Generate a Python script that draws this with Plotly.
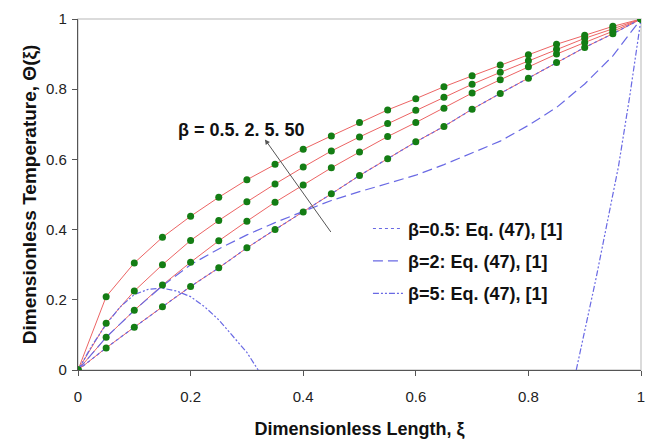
import plotly.graph_objects as go

# ---------------- data ----------------
xi = [0, 0.05, 0.1, 0.15, 0.2, 0.25, 0.3, 0.35, 0.4, 0.45, 0.5,
      0.55, 0.6, 0.65, 0.7, 0.75, 0.8, 0.85, 0.9, 0.95, 1.0]

theta_b50 = [0, 0.209, 0.305, 0.378, 0.438, 0.492, 0.542, 0.586, 0.629, 0.667, 0.705,
             0.741, 0.773, 0.807, 0.838, 0.869, 0.898, 0.928, 0.954, 0.979, 1.0]
theta_b5 = [0, 0.133, 0.225, 0.300, 0.369, 0.426, 0.479, 0.530, 0.578, 0.624, 0.664,
            0.702, 0.740, 0.777, 0.814, 0.848, 0.881, 0.914, 0.945, 0.972, 1.0]
theta_b2 = [0, 0.093, 0.170, 0.242, 0.307, 0.368, 0.424, 0.478, 0.527, 0.576, 0.621,
            0.665, 0.705, 0.746, 0.789, 0.827, 0.864, 0.900, 0.933, 0.965, 1.0]
theta_b05 = [0, 0.063, 0.122, 0.180, 0.238, 0.291, 0.348, 0.400, 0.450, 0.502, 0.554,
             0.602, 0.650, 0.694, 0.743, 0.788, 0.831, 0.876, 0.919, 0.958, 1.0]

# Eq. (47), [1]
eq_b05_x = xi
eq_b05_y = [0, 0.063, 0.122, 0.180, 0.238, 0.291, 0.348, 0.400, 0.450, 0.502, 0.554,
            0.602, 0.650, 0.694, 0.743, 0.788, 0.831, 0.876, 0.919, 0.958, 1.0]

eq_b2_x = xi
eq_b2_y = [0, 0.093, 0.170, 0.240, 0.300, 0.345, 0.385, 0.420, 0.452, 0.483, 0.508,
           0.532, 0.555, 0.585, 0.618, 0.652, 0.697, 0.748, 0.815, 0.895, 1.0]

eq_b5_x = [0, 0.025, 0.05, 0.075, 0.1, 0.125, 0.15, 0.175, 0.2, 0.225, 0.25, 0.275,
           0.3, 0.32, None, 0.885, 0.9, 0.92, 0.94, 0.96, 0.98, 1.0]
eq_b5_y = [0, 0.070, 0.130, 0.180, 0.215, 0.230, 0.233, 0.225, 0.209, 0.180, 0.143,
           0.095, 0.050, 0.0, None, 0.0, 0.11, 0.26, 0.42, 0.58, 0.78, 1.0]

x_ticks = [0, 0.2, 0.4, 0.6, 0.8, 1]
y_ticks = [0, 0.2, 0.4, 0.6, 0.8, 1]

arrow_head = (0.332, 0.657)
arrow_tail = (0.451, 0.389)
label_pos = (0.29, 0.683)

# ---------------- styles ----------------
RED = "rgb(236,100,100)"
BLUE = "rgb(105,105,228)"
GREEN = "rgb(20,125,20)"
FONT = "Liberation Sans, Arial, sans-serif"

fig = go.Figure()

red_series = [theta_b05, theta_b2, theta_b5, theta_b50]
for ys in red_series:
    fig.add_trace(go.Scatter(x=xi, y=ys, mode="lines",
                             line=dict(color=RED, width=1),
                             showlegend=False, hoverinfo="skip"))

fig.add_trace(go.Scatter(x=eq_b05_x, y=eq_b05_y, mode="lines",
                         name="β=0.5: Eq. (47), [1]", legendgroup="a",
                         line=dict(color=BLUE, width=1.2, dash="dot")))
fig.add_trace(go.Scatter(x=eq_b2_x, y=eq_b2_y, mode="lines",
                         name="β=2: Eq. (47), [1]", legendgroup="b",
                         line=dict(color=BLUE, width=1.2, dash="10px,5px")))
fig.add_trace(go.Scatter(x=eq_b5_x, y=eq_b5_y, mode="lines",
                         name="β=5: Eq. (47), [1]", legendgroup="c",
                         line=dict(color=BLUE, width=1.2, dash="6px,2px,2px,2px,2px,2px"),
                         connectgaps=False))

for ys in red_series:
    fig.add_trace(go.Scatter(x=xi, y=ys, mode="markers",
                             marker=dict(color=GREEN, size=7),
                             showlegend=False, hoverinfo="skip"))

fig.add_annotation(x=arrow_head[0], y=arrow_head[1], ax=arrow_tail[0], ay=arrow_tail[1],
                   xref="x", yref="y", axref="x", ayref="y",
                   text="", showarrow=True, arrowhead=2, arrowsize=1,
                   arrowwidth=1, arrowcolor="#555555")
fig.add_annotation(x=label_pos[0], y=label_pos[1], xref="x", yref="y",
                   text="<b>β = 0.5. 2. 5. 50</b>", showarrow=False,
                   font=dict(family=FONT, size=18, color="#111111"))

# light gray plot-area frame (top/right)
fig.add_shape(type="rect", xref="x domain", yref="y domain", x0=0, y0=0, x1=1, y1=1,
              line=dict(color="#cfcfcf", width=1.5), layer="below")

fig.update_layout(
    width=654, height=443,
    margin=dict(l=78, r=13, t=19, b=73),
    paper_bgcolor="white", plot_bgcolor="white",
    font=dict(family=FONT, size=14, color="#222222"),
    legend=dict(x=0.515, y=0.455, xanchor="left", yanchor="top",
                bgcolor="rgba(0,0,0,0)", tracegroupgap=6,
                font=dict(family=FONT, size=18, color="#111111", weight="bold")),
    showlegend=True,
)
fig.update_xaxes(range=[0, 1], tickvals=x_ticks, ticktext=[f"{v:g}" for v in x_ticks],
                 automargin=False,
                 showgrid=False, zeroline=False, showline=True, linecolor="#555555",
                 linewidth=1.2, ticks="outside", ticklen=5, tickcolor="#555555",
                 tickfont=dict(size=15), ticklabelstandoff=8,
                 title=dict(text="<b>Dimensionless Length, ξ</b>",
                            font=dict(size=18, color="#111111"), standoff=18))
fig.update_yaxes(range=[0, 1], tickvals=y_ticks, ticktext=[f"{v:g}" for v in y_ticks],
                 automargin=False,
                 showgrid=False, zeroline=False, showline=True, linecolor="#555555",
                 linewidth=1.2, ticks="outside", ticklen=5, tickcolor="#555555",
                 tickfont=dict(size=15), ticklabelstandoff=2,
                 title=dict(text="<b>Dimensionless Temperature, Θ(ξ)</b>",
                            font=dict(size=19, color="#111111"), standoff=4))

fig.write_html("out.html")
